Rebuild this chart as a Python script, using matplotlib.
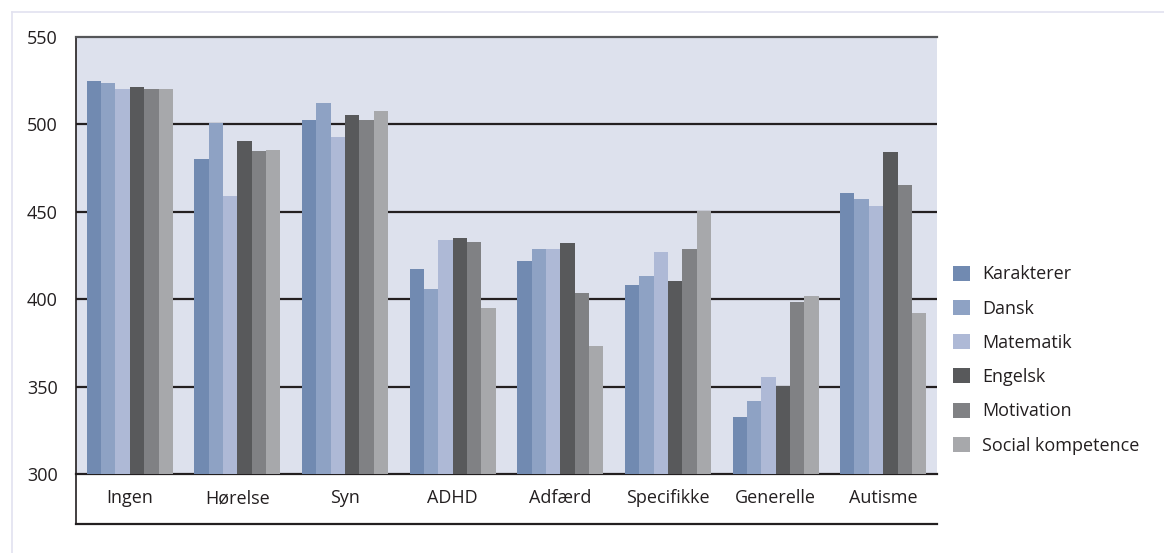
import numpy as np
import matplotlib
matplotlib.use('Agg')
import matplotlib.pyplot as plt
from matplotlib.lines import Line2D
from matplotlib.patches import Patch

plt.rcParams['font.family'] = ['Open Sans', 'DejaVu Sans']

groups = ['Ingen', 'Hørelse', 'Syn', 'ADHD', 'Adfærd', 'Specifikke', 'Generelle', 'Autisme']
series = ['Karakterer', 'Dansk', 'Matematik', 'Engelsk', 'Motivation', 'Social kompetence']

karakterer = [525, 480, 502.5, 417, 422, 408, 332.5, 461]
dansk = [523.5, 501, 512, 406, 429, 413, 342, 457.5]
matematik = [520, 459, 493, 434, 429, 427, 355.5, 453.5]
engelsk = [521.5, 490.5, 505.5, 435, 432, 410.5, 350.5, 484]
motivation = [520, 484.5, 502.5, 433, 403.5, 429, 398.5, 465.5]
social = [520, 485.5, 507.5, 395, 373, 450.5, 402, 392]

values = [karakterer, dansk, matematik, engelsk, motivation, social]
colors = ['#718ab1', '#8ea2c4', '#aeb9d6', '#58595b', '#808184', '#a7a8ab']

yticks = [300, 350, 400, 450, 500, 550]
FS = 13

fig = plt.figure(figsize=(11.64, 5.53), dpi=100)
ax = fig.add_axes([76 / 1164, 1 - 474 / 553, (937 - 76) / 1164, (474 - 37) / 553])
ax.set_facecolor('#dde1ed')

x = np.arange(len(groups))
width = 0.8 / len(series)
for i, (vals, col) in enumerate(zip(values, colors)):
    ax.bar(x - 0.4 + width * (i + 0.5), np.array(vals) - 300, width=width,
           bottom=300, color=col, label=series[i], zorder=3, linewidth=0)

ax.set_ylim(300, 550)
ax.set_xlim(-0.5, len(groups) - 0.5)
ax.set_yticks(yticks)
ax.set_yticklabels([str(t) for t in yticks], fontsize=FS, color='#231f20')
ax.set_xticks(x)
ax.set_xticklabels(groups, fontsize=FS, color='#231f20')
ax.tick_params(length=0)
ax.tick_params(axis='x', pad=11)
ax.tick_params(axis='y', pad=13)
for y in yticks[1:-1]:
    ax.axhline(y, color='#231f20', lw=1.6, zorder=1)

ax.spines['right'].set_visible(False)
ax.spines['top'].set_color('#555659')
ax.spines['top'].set_linewidth(1.6)
ax.spines['bottom'].set_color('#231f20')
ax.spines['bottom'].set_linewidth(1.6)
ax.spines['left'].set_color('#231f20')
ax.spines['left'].set_linewidth(1.2)

# lower frame around the category labels
x0, x1 = 76 / 1164, 937 / 1164
yb = 1 - 524 / 553
fig.add_artist(Line2D([x0, x1], [yb, yb], color='#231f20', lw=1.6))
fig.add_artist(Line2D([x0, x0], [yb, 1 - 474 / 553], color='#231f20', lw=1.2))

# light outer frame
fx, fy = 11.5 / 1164, 1 - 11.5 / 553
fig.add_artist(Line2D([fx, 1], [fy, fy], color='#e2e2f0', lw=1.2))
fig.add_artist(Line2D([fx, fx], [0, fy], color='#e2e2f0', lw=1.2))

handles = [Patch(facecolor=c, edgecolor='none') for c in colors]
fig.legend(handles, series, loc='center left', bbox_to_anchor=(937 / 1164, 1 - 360 / 553),
           frameon=False, fontsize=FS, handlelength=0.9, handleheight=0.9,
           handletextpad=0.7, labelspacing=0.9, labelcolor='#231f20')

fig.savefig('out.png', dpi=100, facecolor='white')
